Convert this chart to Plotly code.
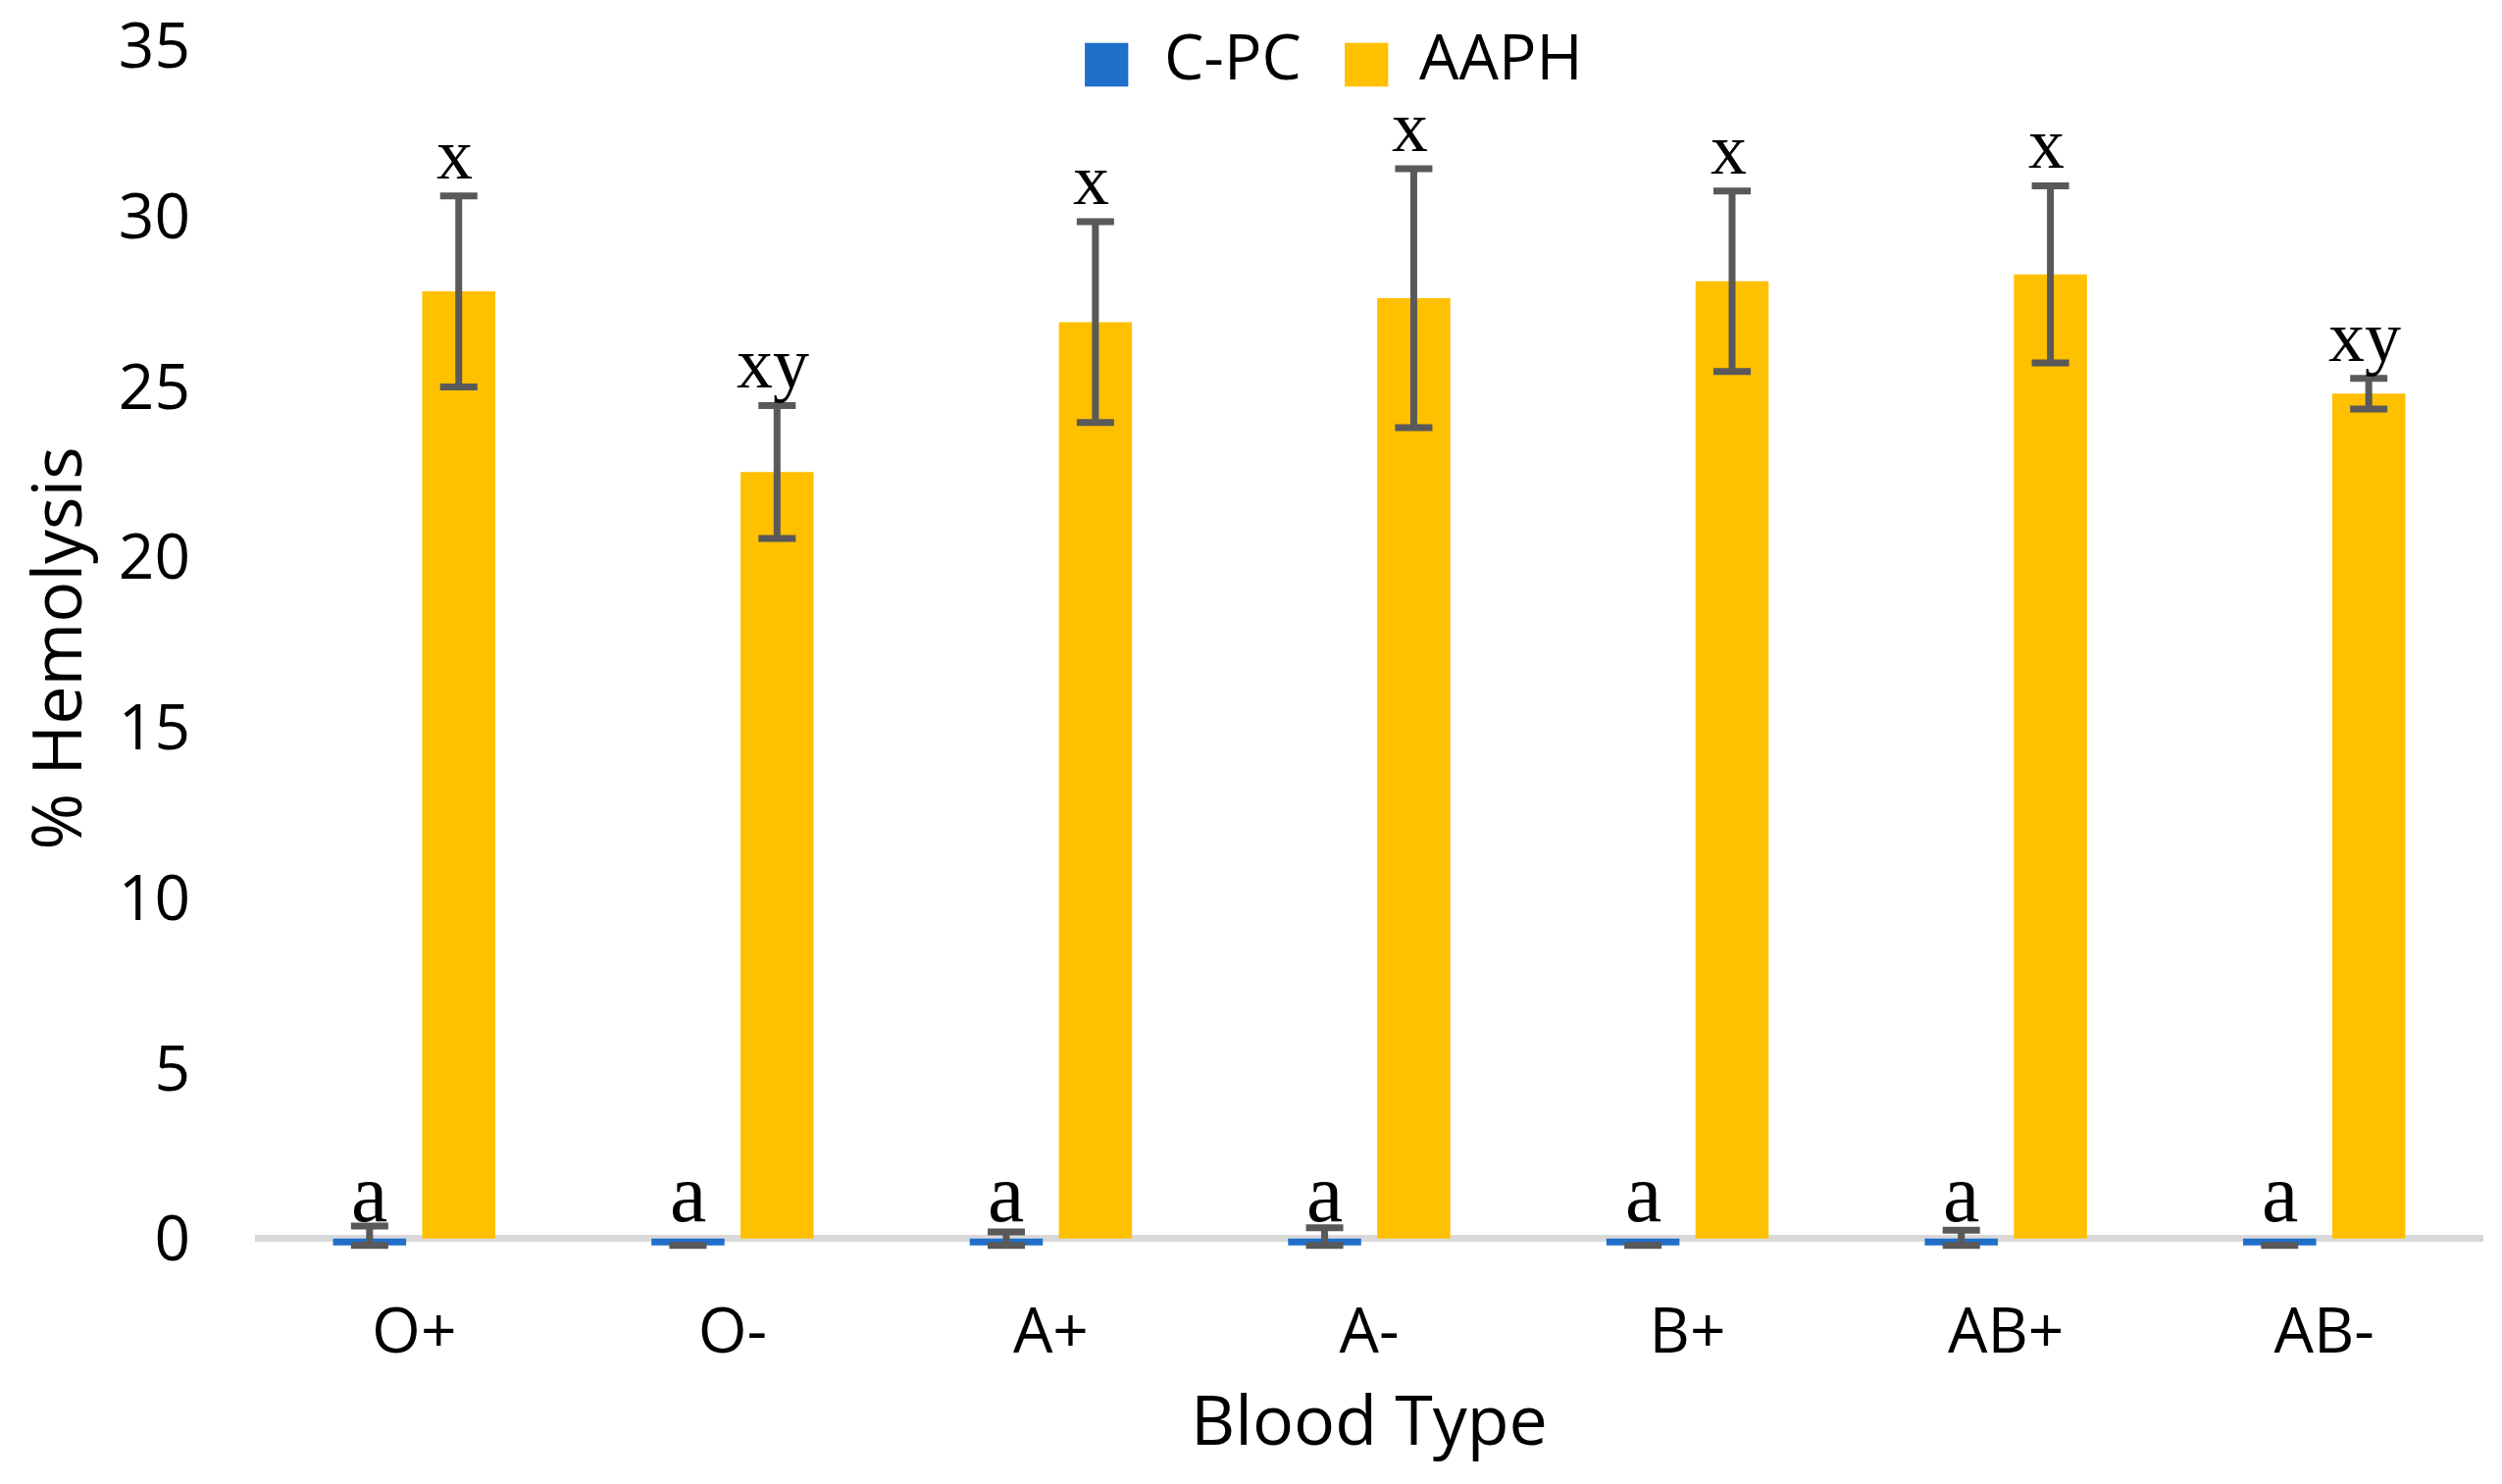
import plotly.graph_objects as go

# ---- data ----
blood_types = ["O+", "O-", "A+", "A-", "B+", "AB+", "AB-"]
cpc_values = [-0.2, -0.2, -0.2, -0.2, -0.2, -0.2, -0.2]
cpc_err_plus = [0.57, None, 0.4, 0.52, None, 0.45, None]
aaph_values = [27.8, 22.5, 26.9, 27.6, 28.1, 28.3, 24.8]
aaph_err = [2.8, 1.95, 2.95, 3.8, 2.65, 2.6, 0.45]
cpc_letters = ["a", "a", "a", "a", "a", "a", "a"]
aaph_letters = ["x", "xy", "x", "x", "x", "x", "xy"]
series_names = ["C-PC", "AAPH"]
y_ticks = [0, 5, 10, 15, 20, 25, 30, 35]

# ---- style / layout constants ----
W, H = 2551, 1513
M_L, M_R, M_T, M_B = 252, 27, 39, 246
BARGAP = 0.44
BARGROUPGAP = 0.18
SANS = "Open Sans, Noto Sans, sans-serif"
SERIF = "Liberation Serif, Times New Roman, serif"
BLUE = "#1F6FCB"
GOLD = "#FFC000"
ERR = "#595959"
COLORS = [BLUE, GOLD]

plot_w = W - M_L - M_R
plot_h = H - M_T - M_B
cat_w = plot_w / len(blood_types)
offset = (1 - BARGAP) / 4 * cat_w

fig = go.Figure()
fig.add_trace(go.Bar(
    name=series_names[0], x=blood_types, y=cpc_values, marker_color=BLUE,
    marker_line_width=0, showlegend=False,
    error_y=dict(type="data", symmetric=False, array=cpc_err_plus,
                 arrayminus=[0] * len(cpc_values), color=ERR,
                 thickness=7, width=19),
))
fig.add_trace(go.Bar(
    name=series_names[1], x=blood_types, y=aaph_values, marker_color=GOLD,
    marker_line_width=0, showlegend=False,
    error_y=dict(type="data", array=aaph_err, color=ERR,
                 thickness=7, width=19),
))

annotations = []
for bt, v, lab in zip(blood_types, cpc_values, cpc_letters):
    annotations.append(dict(
        x=bt, y=0, xref="x", yref="y", text=lab, showarrow=False,
        xshift=-offset, yanchor="bottom", yshift=-2,
        font=dict(family=SERIF, size=84, color="black"),
    ))
for bt, v, e, lab in zip(blood_types, aaph_values, aaph_err, aaph_letters):
    annotations.append(dict(
        x=bt, y=v + e, xref="x", yref="y", text=lab, showarrow=False,
        xshift=offset - 4, yanchor="bottom", yshift=0,
        font=dict(family=SERIF, size=74, color="black"),
    ))

# legend drawn as text: coloured square + series name
leg_sq_x = [1120, 1385]
leg_txt_x = [1177, 1437]
leg_sq_y = 53
leg_txt_y = 48
for name, col, sx, tx in zip(series_names, COLORS, leg_sq_x, leg_txt_x):
    annotations.append(dict(
        x=(sx - M_L) / plot_w, y=1 - (leg_sq_y - M_T) / plot_h,
        xref="paper", yref="paper", text="■", showarrow=False,
        xanchor="center", yanchor="middle",
        font=dict(family="DejaVu Sans", size=58, color=col),
    ))
    annotations.append(dict(
        x=(tx - M_L) / plot_w, y=1 - (leg_txt_y - M_T) / plot_h,
        xref="paper", yref="paper", text=name, showarrow=False,
        xanchor="left", yanchor="middle",
        font=dict(family=SANS, size=64, color="black"),
    ))

fig.update_layout(
    width=W, height=H,
    margin=dict(l=M_L, r=M_R, t=M_T, b=M_B, autoexpand=False),
    paper_bgcolor="white", plot_bgcolor="white",
    barmode="group", bargap=BARGAP, bargroupgap=BARGROUPGAP,
    font=dict(family=SANS, size=64, color="black"),
    showlegend=False,
    annotations=annotations,
    xaxis=dict(
        title=dict(text="Blood Type", font=dict(family=SANS, size=70), standoff=0),
        showline=False, showgrid=False, zeroline=False, ticks="",
        tickfont=dict(family=SANS, size=64), ticklabelstandoff=39,
        automargin=False,
    ),
    yaxis=dict(
        title=dict(text="% Hemolysis", font=dict(family=SANS, size=70), standoff=22),
        range=[-0.35, 35], tickvals=y_ticks, showgrid=False, showline=False,
        zeroline=True, zerolinecolor="#D9D9D9", zerolinewidth=7,
        ticks="", tickfont=dict(family=SANS, size=64), ticklabelstandoff=65,
        ticklabeloverflow="allow", automargin=False,
    ),
)

fig.write_html("out.html")
